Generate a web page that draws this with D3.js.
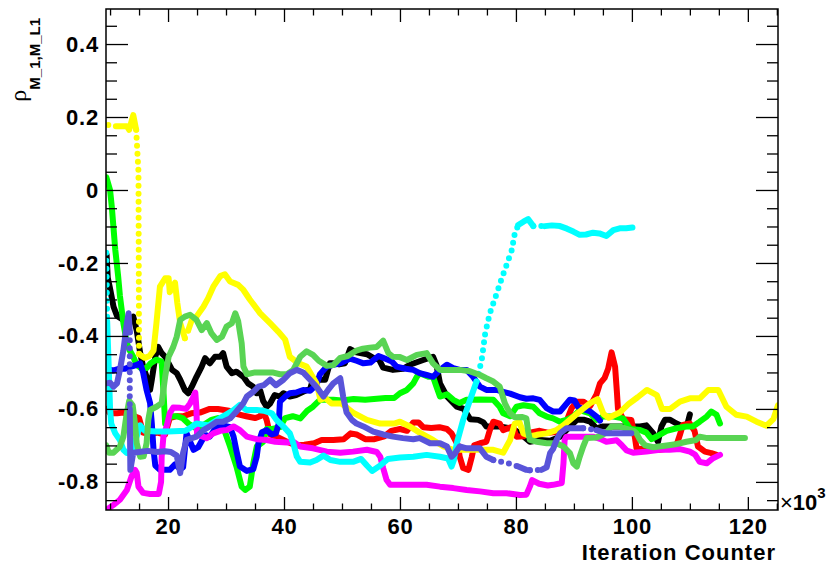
<!DOCTYPE html>
<html>
<head>
<meta charset="utf-8">
<script src="https://cdn.jsdelivr.net/npm/d3@7"></script>
<style>
  body { margin: 0; background: #fff; }
  text { font-family: 'Liberation Sans', Arial, Helvetica, sans-serif; }
</style>
</head>
<body>
<svg id="canvas" width="830" height="568"></svg>
<script>
// x in units of 10^3 iterations, y = rho(M_1, M_L1)
const xTickValues = [20, 40, 60, 80, 100, 120]
const xTickLabels = ['20', '40', '60', '80', '100', '120']
const yTickValues = [-0.8, -0.6, -0.4, -0.2, 0, 0.2, 0.4]
const yTickLabels = ['-0.8', '-0.6', '-0.4', '-0.2', '0', '0.2', '0.4']

const black = [[9.4,-0.178],[9.6,-0.24],[10.0,-0.27],[10.6,-0.32],[11.2,-0.345],[12.3,-0.356],[13.4,-0.356],[14.0,-0.347],[14.6,-0.385],[15.2,-0.447],[15.7,-0.484],[16.3,-0.512],[16.9,-0.548],[17.2,-0.52],[17.8,-0.457],[18.3,-0.43],[18.9,-0.447],[19.5,-0.457],[20.1,-0.475],[20.7,-0.493],[21.5,-0.502],[22.1,-0.52],[22.9,-0.548],[23.5,-0.557],[24.1,-0.539],[24.9,-0.512],[25.8,-0.484],[26.4,-0.461],[27.2,-0.475],[28.1,-0.457],[29.0,-0.457],[29.5,-0.447],[30.1,-0.484],[31.0,-0.502],[31.8,-0.498],[33.0,-0.512],[33.8,-0.53],[34.7,-0.539],[35.3,-0.557],[35.9,-0.55],[36.4,-0.578],[37.0,-0.594],[37.6,-0.585],[38.4,-0.562],[39.3,-0.566],[39.9,-0.557],[41.0,-0.566],[42.1,-0.562],[43.3,-0.553],[44.5,-0.545],[45.0,-0.52],[46.0,-0.52],[47.1,-0.52],[47.9,-0.475],[48.5,-0.475],[49.5,-0.478],[50.5,-0.475],[51.4,-0.436],[52.5,-0.445],[54.3,-0.45],[55.4,-0.46],[56.4,-0.465],[57.1,-0.487],[58.8,-0.493],[60.5,-0.49],[61.7,-0.479],[64.0,-0.466],[65.7,-0.457],[66.3,-0.48],[66.9,-0.53],[68.1,-0.566],[69.8,-0.594],[71.0,-0.6],[72.1,-0.628],[73.5,-0.63],[74.4,-0.637],[74.9,-0.648],[77.2,-0.648],[79.5,-0.655],[80.7,-0.667],[82.4,-0.69],[84.1,-0.685],[85.9,-0.687],[87.6,-0.676],[88.7,-0.658],[90.5,-0.63],[91.8,-0.63],[92.8,-0.635],[93.9,-0.653],[95.0,-0.648],[97.0,-0.648],[99.0,-0.648],[101.4,-0.648],[102.5,-0.645],[103.7,-0.667],[104.5,-0.69],[105.1,-0.648],[105.7,-0.63],[106.6,-0.63],[107.7,-0.64],[108.8,-0.648],[109.6,-0.64],[110.0,-0.615]]

const red = [[9.3,-0.6],[10.0,-0.612],[11.2,-0.612],[12.3,-0.61],[13.1,-0.617],[14.2,-0.62],[15.0,-0.625],[15.7,-0.665],[17.0,-0.67],[18.1,-0.665],[19.5,-0.67],[20.3,-0.625],[21.5,-0.62],[22.6,-0.62],[24.0,-0.612],[25.5,-0.61],[27.2,-0.6],[28.6,-0.6],[30.5,-0.605],[32.1,-0.615],[33.5,-0.62],[35.0,-0.625],[35.9,-0.62],[36.4,-0.605],[37.0,-0.63],[37.6,-0.67],[39.0,-0.678],[40.5,-0.69],[42.1,-0.7],[43.5,-0.698],[45.2,-0.694],[46.5,-0.685],[48.5,-0.685],[50.3,-0.683],[51.5,-0.667],[52.5,-0.67],[54.0,-0.683],[55.6,-0.683],[57.3,-0.675],[58.5,-0.66],[60.0,-0.655],[61.2,-0.66],[62.3,-0.637],[63.2,-0.637],[64.0,-0.65],[65.4,-0.652],[66.8,-0.65],[68.1,-0.655],[68.9,-0.667],[70.0,-0.7],[70.3,-0.731],[70.9,-0.762],[71.8,-0.767],[72.4,-0.731],[72.8,-0.7],[73.8,-0.694],[74.9,-0.69],[75.5,-0.658],[76.1,-0.635],[77.2,-0.64],[77.8,-0.658],[79.5,-0.648],[80.1,-0.676],[81.3,-0.675],[82.4,-0.665],[84.1,-0.66],[85.5,-0.665],[87.0,-0.663],[88.0,-0.655],[88.7,-0.635],[89.6,-0.598],[90.5,-0.58],[91.6,-0.58],[92.8,-0.592],[93.9,-0.56],[94.5,-0.53],[95.3,-0.515],[95.9,-0.49],[96.5,-0.445],[97.1,-0.484],[97.4,-0.55],[97.6,-0.6],[98.5,-0.628],[99.9,-0.63],[100.5,-0.676],[100.8,-0.708],[102.5,-0.712],[104.8,-0.712],[106.6,-0.708],[107.7,-0.699],[108.3,-0.67],[108.8,-0.644],[110.0,-0.64],[110.8,-0.66],[111.4,-0.703],[112.6,-0.717],[113.7,-0.721],[114.6,-0.726]]

const green = [[9.35,0.035],[10.0,0.0],[10.3,-0.046],[10.9,-0.164],[11.4,-0.237],[11.7,-0.29],[12.3,-0.365],[12.9,-0.42],[13.4,-0.44],[14.0,-0.457],[14.6,-0.48],[15.5,-0.49],[16.3,-0.488],[17.0,-0.475],[18.0,-0.465],[18.9,-0.47],[19.2,-0.55],[19.5,-0.64],[20.5,-0.62],[21.5,-0.62],[22.5,-0.625],[23.5,-0.64],[25.0,-0.655],[26.5,-0.64],[27.5,-0.63],[28.6,-0.625],[29.3,-0.64],[30.7,-0.703],[31.8,-0.758],[32.7,-0.813],[33.3,-0.822],[34.1,-0.813],[34.7,-0.749],[35.3,-0.703],[36.4,-0.69],[37.0,-0.655],[38.0,-0.655],[39.3,-0.65],[40.2,-0.625],[41.5,-0.62],[42.8,-0.626],[44.0,-0.605],[45.0,-0.594],[46.2,-0.575],[48.5,-0.575],[50.0,-0.577],[52.0,-0.573],[54.0,-0.575],[56.0,-0.572],[57.5,-0.57],[59.0,-0.57],[60.0,-0.557],[61.2,-0.548],[62.3,-0.53],[62.9,-0.512],[63.4,-0.502],[64.9,-0.512],[65.7,-0.512],[66.3,-0.539],[66.9,-0.566],[68.1,-0.56],[69.2,-0.575],[70.3,-0.584],[71.5,-0.575],[73.8,-0.574],[76.1,-0.575],[77.2,-0.594],[77.8,-0.612],[79.0,-0.62],[80.1,-0.594],[81.3,-0.59],[83.0,-0.594],[84.1,-0.612],[85.3,-0.621],[86.4,-0.626],[87.6,-0.635],[88.7,-0.63],[89.9,-0.621],[91.0,-0.603],[92.8,-0.612],[93.9,-0.63],[95.0,-0.621],[96.8,-0.621],[98.5,-0.626],[99.7,-0.655],[101.4,-0.658],[102.5,-0.665],[103.4,-0.683],[104.3,-0.675],[106.0,-0.66],[107.7,-0.653],[109.4,-0.648],[110.5,-0.648],[111.7,-0.635],[112.9,-0.621],[113.7,-0.607],[114.6,-0.616],[115.2,-0.64]]

const blue = [[9.5,-0.49],[10.5,-0.495],[11.5,-0.49],[12.5,-0.49],[13.5,-0.485],[14.5,-0.48],[15.2,-0.475],[15.7,-0.5],[16.3,-0.548],[16.9,-0.584],[17.2,-0.64],[17.5,-0.712],[17.8,-0.755],[18.6,-0.767],[20.3,-0.767],[21.2,-0.752],[22.1,-0.765],[22.6,-0.76],[22.9,-0.712],[23.2,-0.667],[23.8,-0.69],[24.4,-0.712],[25.2,-0.705],[25.9,-0.685],[26.6,-0.672],[27.2,-0.676],[28.4,-0.648],[29.5,-0.645],[30.7,-0.65],[31.3,-0.676],[31.8,-0.715],[32.4,-0.758],[33.6,-0.77],[34.7,-0.765],[35.3,-0.73],[35.6,-0.694],[36.2,-0.664],[37.0,-0.658],[37.9,-0.67],[38.6,-0.667],[39.1,-0.64],[39.3,-0.58],[40.3,-0.565],[41.0,-0.557],[42.1,-0.555],[43.3,-0.548],[44.5,-0.55],[45.6,-0.534],[46.2,-0.505],[47.4,-0.484],[48.5,-0.479],[49.7,-0.475],[51.4,-0.462],[52.5,-0.468],[53.7,-0.475],[54.9,-0.473],[56.3,-0.455],[57.4,-0.462],[58.6,-0.47],[59.4,-0.484],[61.0,-0.49],[62.3,-0.493],[63.4,-0.502],[64.6,-0.507],[65.7,-0.512],[66.9,-0.493],[68.1,-0.479],[69.2,-0.488],[70.3,-0.493],[71.5,-0.493],[72.6,-0.512],[73.8,-0.539],[74.9,-0.548],[76.7,-0.548],[77.8,-0.553],[79.0,-0.558],[80.7,-0.568],[81.8,-0.572],[83.0,-0.571],[84.1,-0.575],[85.3,-0.598],[86.4,-0.607],[87.6,-0.607],[88.4,-0.592],[89.3,-0.575],[90.1,-0.577],[90.7,-0.594],[91.6,-0.6],[92.8,-0.607],[93.9,-0.621],[94.5,-0.632]]

const yellow = [[9.7,0.178],[11.0,0.175],[12.9,0.175],[13.3,0.165],[14.0,0.205],[14.5,0.165],[14.9,0.05],[15.0,-0.45],[16.0,-0.46],[16.8,-0.455],[17.5,-0.44],[18.0,-0.365],[18.6,-0.265],[19.5,-0.242],[20.1,-0.242],[20.3,-0.28],[21.2,-0.254],[21.6,-0.31],[22.1,-0.365],[22.9,-0.406],[23.5,-0.384],[24.1,-0.356],[24.9,-0.347],[26.1,-0.32],[26.9,-0.297],[27.8,-0.265],[29.0,-0.236],[29.8,-0.231],[30.7,-0.251],[32.1,-0.26],[33.0,-0.274],[34.1,-0.3],[35.9,-0.338],[37.6,-0.365],[39.0,-0.388],[40.2,-0.41],[41.0,-0.457],[42.5,-0.475],[43.9,-0.484],[45.6,-0.53],[46.3,-0.575],[47.1,-0.57],[48.2,-0.585],[49.9,-0.585],[51.9,-0.61],[54.3,-0.63],[56.6,-0.64],[59.0,-0.64],[60.0,-0.635],[61.7,-0.648],[63.4,-0.665],[65.7,-0.685],[67.5,-0.703],[69.2,-0.712],[71.5,-0.712],[73.8,-0.712],[76.1,-0.712],[77.8,-0.72],[79.0,-0.685],[79.8,-0.64],[80.6,-0.636],[81.3,-0.667],[82.5,-0.675],[83.6,-0.671],[85.3,-0.667],[87.0,-0.658],[88.2,-0.645],[89.3,-0.63],[91.0,-0.607],[92.8,-0.584],[94.1,-0.573],[95.1,-0.614],[96.0,-0.624],[97.9,-0.61],[99.4,-0.587],[101.0,-0.568],[102.6,-0.548],[104.3,-0.562],[105.2,-0.6],[106.6,-0.6],[108.3,-0.58],[110.0,-0.571],[111.7,-0.571],[113.2,-0.548],[114.9,-0.548],[116.3,-0.594],[118.0,-0.616],[119.8,-0.621],[121.5,-0.635],[123.2,-0.646],[124.4,-0.628],[125.2,-0.59]]

const magenta = [[9.35,-0.877],[10.6,-0.863],[11.7,-0.849],[12.9,-0.822],[13.7,-0.785],[14.3,-0.767],[14.6,-0.775],[14.9,-0.813],[15.7,-0.83],[16.9,-0.833],[18.4,-0.833],[18.8,-0.8],[18.9,-0.731],[19.2,-0.676],[19.8,-0.645],[20.3,-0.612],[20.9,-0.596],[22.1,-0.597],[23.1,-0.6],[23.8,-0.585],[24.4,-0.566],[24.7,-0.555],[24.9,-0.6],[25.0,-0.67],[26.7,-0.68],[27.8,-0.667],[29.0,-0.66],[30.1,-0.658],[31.3,-0.648],[32.4,-0.658],[33.6,-0.676],[35.3,-0.683],[37.0,-0.685],[38.5,-0.69],[40.5,-0.692],[41.6,-0.69],[42.8,-0.703],[45.0,-0.708],[47.4,-0.717],[49.7,-0.72],[51.9,-0.717],[54.3,-0.712],[56.0,-0.718],[56.6,-0.731],[57.1,-0.762],[57.7,-0.795],[58.3,-0.808],[60.0,-0.808],[62.3,-0.808],[64.6,-0.808],[66.9,-0.813],[69.2,-0.817],[71.5,-0.822],[73.8,-0.826],[76.1,-0.831],[78.4,-0.831],[80.7,-0.836],[81.8,-0.835],[82.4,-0.813],[82.8,-0.795],[84.0,-0.805],[85.5,-0.81],[86.4,-0.808],[87.9,-0.803],[88.2,-0.749],[88.4,-0.685],[88.7,-0.676],[91.0,-0.676],[93.3,-0.676],[94.5,-0.682],[95.6,-0.69],[97.4,-0.686],[98.3,-0.7],[99.1,-0.714],[100.2,-0.72],[102.5,-0.717],[104.8,-0.712],[106.5,-0.712],[108.3,-0.71],[110.0,-0.717],[110.9,-0.725],[111.7,-0.745],[112.9,-0.749],[114.0,-0.735],[115.2,-0.726]]

const cyan = [[9.35,-0.172],[9.5,-0.36],[9.8,-0.5],[10.0,-0.6],[10.2,-0.64],[10.9,-0.667],[11.7,-0.685],[12.3,-0.712],[12.9,-0.721],[13.8,-0.722],[14.5,-0.68],[15.2,-0.645],[16.0,-0.66],[18.0,-0.662],[20.0,-0.662],[23.0,-0.66],[24.0,-0.65],[24.9,-0.64],[27.0,-0.645],[29.5,-0.62],[31.3,-0.603],[32.4,-0.589],[33.5,-0.603],[35.3,-0.603],[36.5,-0.605],[37.9,-0.612],[38.7,-0.63],[39.9,-0.648],[41.0,-0.667],[41.6,-0.694],[42.2,-0.73],[42.8,-0.745],[44.5,-0.747],[45.6,-0.74],[46.8,-0.728],[48.0,-0.74],[49.7,-0.745],[51.9,-0.745],[53.3,-0.737],[54.3,-0.755],[55.2,-0.77],[56.6,-0.755],[57.9,-0.737],[60.0,-0.733],[62.3,-0.731],[64.6,-0.726],[66.9,-0.731],[68.3,-0.736],[68.9,-0.758],[69.3,-0.74],[69.8,-0.694],[70.9,-0.63],[72.1,-0.575],[73.2,-0.525],[74.1,-0.466],[74.7,-0.393],[75.5,-0.338],[76.7,-0.283],[77.6,-0.24],[78.4,-0.205],[79.3,-0.164],[79.8,-0.119],[80.4,-0.096],[81.3,-0.087],[82.1,-0.08],[83.0,-0.099],[85.0,-0.099],[86.2,-0.097],[87.6,-0.099],[88.8,-0.106],[89.9,-0.114],[91.0,-0.123],[92.1,-0.122],[93.3,-0.117],[94.4,-0.119],[95.6,-0.126],[96.8,-0.11],[97.9,-0.105],[99.0,-0.105],[100.1,-0.103]]

const lightGreen = [[9.35,-0.7],[9.8,-0.72],[10.6,-0.72],[11.7,-0.703],[12.3,-0.676],[12.8,-0.62],[13.3,-0.578],[13.9,-0.59],[14.3,-0.64],[14.6,-0.694],[15.2,-0.731],[15.8,-0.73],[16.3,-0.694],[16.6,-0.63],[16.9,-0.603],[18.0,-0.594],[18.9,-0.584],[19.5,-0.512],[20.1,-0.457],[20.9,-0.43],[21.5,-0.402],[22.1,-0.356],[22.9,-0.347],[23.8,-0.342],[24.9,-0.356],[25.8,-0.384],[26.7,-0.365],[27.5,-0.393],[28.4,-0.411],[29.3,-0.402],[30.1,-0.374],[31.0,-0.365],[31.6,-0.338],[32.1,-0.36],[32.7,-0.42],[33.0,-0.484],[33.6,-0.505],[35.0,-0.5],[36.5,-0.5],[38.0,-0.5],[39.3,-0.505],[40.5,-0.505],[41.6,-0.493],[42.8,-0.457],[43.9,-0.442],[45.0,-0.452],[46.0,-0.468],[47.4,-0.482],[48.5,-0.48],[49.7,-0.46],[51.0,-0.455],[52.5,-0.44],[53.6,-0.435],[54.8,-0.432],[56.0,-0.43],[57.1,-0.413],[58.0,-0.447],[58.8,-0.457],[60.0,-0.458],[61.2,-0.466],[62.9,-0.452],[64.6,-0.447],[65.7,-0.475],[66.9,-0.493],[68.6,-0.493],[70.3,-0.493],[72.1,-0.497],[73.8,-0.507],[74.9,-0.516],[76.1,-0.525],[77.2,-0.539],[78.1,-0.585],[79.0,-0.612],[79.8,-0.623],[81.0,-0.622],[81.8,-0.626],[82.1,-0.66],[82.4,-0.685],[83.6,-0.69],[85.3,-0.694],[87.0,-0.694],[88.2,-0.703],[89.3,-0.721],[89.9,-0.749],[90.5,-0.758],[91.0,-0.731],[91.6,-0.703],[92.2,-0.68],[93.9,-0.678],[94.8,-0.672],[95.6,-0.665],[96.5,-0.648],[97.9,-0.648],[99.1,-0.655],[100.3,-0.66],[100.8,-0.667],[101.4,-0.685],[102.3,-0.7],[103.7,-0.705],[106.0,-0.7],[107.5,-0.697],[109.4,-0.69],[111.1,-0.685],[111.7,-0.676],[113.0,-0.68],[115.2,-0.68],[117.5,-0.68],[119.5,-0.68]]

const slate = [[9.35,-0.53],[10.0,-0.528],[10.6,-0.539],[11.2,-0.53],[11.7,-0.493],[12.3,-0.44],[12.9,-0.365],[13.2,-0.338],[13.4,-0.39],[13.4,-0.6],[13.5,-0.767],[14.0,-0.72],[15.0,-0.718],[16.5,-0.715],[18.0,-0.718],[19.5,-0.716],[20.5,-0.718],[21.5,-0.728],[22.1,-0.776],[22.6,-0.72],[23.2,-0.685],[24.9,-0.676],[26.1,-0.658],[27.2,-0.648],[28.4,-0.635],[29.5,-0.635],[30.7,-0.626],[31.8,-0.607],[33.0,-0.584],[33.6,-0.566],[34.7,-0.553],[35.6,-0.539],[36.5,-0.535],[37.6,-0.52],[38.6,-0.535],[39.9,-0.52],[41.0,-0.502],[42.2,-0.493],[43.3,-0.5],[44.5,-0.52],[45.6,-0.539],[46.8,-0.566],[47.6,-0.548],[48.5,-0.53],[49.7,-0.516],[50.2,-0.566],[50.8,-0.61],[51.7,-0.63],[52.5,-0.64],[53.7,-0.648],[55.4,-0.662],[57.1,-0.67],[58.8,-0.676],[60.5,-0.68],[62.3,-0.683],[63.4,-0.68],[65.2,-0.694],[66.9,-0.694],[68.1,-0.703],[68.9,-0.731],[69.5,-0.722],[70.3,-0.703],[71.5,-0.708],[73.8,-0.708],[74.9,-0.731],[76.1,-0.74],[77.2,-0.744],[78.4,-0.748],[79.5,-0.753],[80.4,-0.758],[81.8,-0.767],[82.4,-0.768],[84.4,-0.767],[85.3,-0.76],[85.9,-0.721],[86.4,-0.71],[87.0,-0.685],[87.6,-0.667],[88.7,-0.653],[90.5,-0.653],[91.6,-0.653],[93.9,-0.658],[95.6,-0.667],[97.4,-0.667],[99.9,-0.667]]

// x ranges where the samples are sparse enough to show as separate dots
const yellowSparse = [[9.7, 11.0], [14.5, 15.0], [22.9, 23.5]]
const cyanSparse = [[9.35, 9.5], [73.2, 80.4], [83.0, 85.0]]
const slateSparse = [[13.4, 13.4], [76.1, 80.4], [82.4, 84.4], [91.6, 93.9]]

// drawing order follows the ROOT colour index 1..9
let graphs = [
    { pts: black, color: '#000000', sparse: [] },
    { pts: red, color: '#ff0000', sparse: [] },
    { pts: green, color: '#00ff00', sparse: [] },
    { pts: blue, color: '#0000ff', sparse: [] },
    { pts: yellow, color: '#ffff00', sparse: yellowSparse },
    { pts: magenta, color: '#ff00ff', sparse: [] },
    { pts: cyan, color: '#00ffff', sparse: cyanSparse },
    { pts: lightGreen, color: '#59d454', sparse: [] },
    { pts: slate, color: '#5954d9', sparse: slateSparse }
]

let canvas = d3.select('#canvas')

let xScale = d3.scaleLinear().domain([9.3, 125.2]).range([106, 778])
let yScale = d3.scaleLinear().domain([-0.877, 0.496]).range([510, 9])

let xMinor = d3.range(10, 126, 5).filter(v => v % 20 !== 0)
let yMinor = d3.range(-17, 10).map(v => v * 0.05).filter(v => Math.abs(Math.round(v * 100)) % 20 !== 0)

canvas.append('rect').attr('width', 830).attr('height', 568).attr('fill', '#fff')

canvas.append('clipPath').attr('id', 'frame')
    .append('rect').attr('x', 106).attr('y', 9).attr('width', 672).attr('height', 501)

let plot = canvas.append('g').attr('clip-path', 'url(#frame)')

let line = d3.line()
    .x(p => xScale(p[0]))
    .y(p => yScale(p[1]))

// split a graph into solid and dotted runs
function splitRuns(pts, sparse) {
    let runs = []
    let current = null
    for (let i = 1; i < pts.length; i++) {
        let a = pts[i - 1], b = pts[i]
        let dotted = sparse.some(r => a[0] >= r[0] - 1e-9 && b[0] <= r[1] + 1e-9)
        if (!current || current.dotted !== dotted) {
            current = { dotted: dotted, pts: [a] }
            runs.push(current)
        }
        current.pts.push(b)
    }
    return runs
}

graphs.forEach(graph => {
    splitRuns(graph.pts, graph.sparse).forEach(run => {
        plot.append('path')
            .attr('d', line(run.pts))
            .attr('fill', 'none')
            .attr('stroke', graph.color)
            .attr('stroke-width', 6)
            .attr('stroke-linejoin', 'round')
            .attr('stroke-linecap', 'round')
            .attr('stroke-dasharray', run.dotted ? '0 8' : null)
    })
})

function styleAxis(g) {
    g.select('.domain').remove()
    g.selectAll('.tick line').attr('stroke', '#000').attr('stroke-width', 1.3)
    g.selectAll('.tick text')
        .attr('fill', '#000')
        .style('font-family', "'Liberation Sans', Arial, sans-serif")
        .style('font-weight', 'bold')
        .style('font-size', '22px')
        .style('letter-spacing', '0.8px')
}

// bottom axis
canvas.append('g').attr('transform', 'translate(0,510)')
    .call(d3.axisBottom(xScale).tickValues(xTickValues).tickSizeInner(-13).tickSizeOuter(0).tickPadding(8)
        .tickFormat((d, i) => xTickLabels[i]))
    .call(styleAxis)
canvas.append('g').attr('transform', 'translate(0,510)')
    .call(d3.axisBottom(xScale).tickValues(xMinor).tickSizeInner(-6.5).tickSizeOuter(0).tickFormat(''))
    .call(styleAxis)

// top axis
canvas.append('g').attr('transform', 'translate(0,9)')
    .call(d3.axisTop(xScale).tickValues(xTickValues).tickSizeInner(-13).tickSizeOuter(0).tickFormat(''))
    .call(styleAxis)
canvas.append('g').attr('transform', 'translate(0,9)')
    .call(d3.axisTop(xScale).tickValues(xMinor).tickSizeInner(-6.5).tickSizeOuter(0).tickFormat(''))
    .call(styleAxis)

// left axis
canvas.append('g').attr('transform', 'translate(106,0)')
    .call(d3.axisLeft(yScale).tickValues(yTickValues).tickSizeInner(-22).tickSizeOuter(0).tickPadding(7)
        .tickFormat((d, i) => yTickLabels[i]))
    .call(styleAxis)
canvas.append('g').attr('transform', 'translate(106,0)')
    .call(d3.axisLeft(yScale).tickValues(yMinor).tickSizeInner(-11).tickSizeOuter(0).tickFormat(''))
    .call(styleAxis)

// right axis
canvas.append('g').attr('transform', 'translate(778,0)')
    .call(d3.axisRight(yScale).tickValues(yTickValues).tickSizeInner(-22).tickSizeOuter(0).tickFormat(''))
    .call(styleAxis)
canvas.append('g').attr('transform', 'translate(778,0)')
    .call(d3.axisRight(yScale).tickValues(yMinor).tickSizeInner(-11).tickSizeOuter(0).tickFormat(''))
    .call(styleAxis)

// frame
canvas.append('rect')
    .attr('x', 106).attr('y', 9).attr('width', 672).attr('height', 501)
    .attr('fill', 'none').attr('stroke', '#000').attr('stroke-width', 1.5)

// x10^3 multiplier
let mult = canvas.append('text').attr('x', 780).attr('y', 510)
    .style('font-size', '22px').attr('fill', '#000')
mult.append('tspan').text('×').style('font-weight', 'normal')
mult.append('tspan').text('10').style('font-weight', 'bold')
mult.append('tspan').text('3').style('font-weight', 'bold').style('font-size', '15px').attr('dy', -12)

// x title
canvas.append('text')
    .attr('x', 776).attr('y', 560)
    .attr('text-anchor', 'end')
    .style('font-size', '22px').style('font-weight', 'bold').style('letter-spacing', '1px')
    .attr('fill', '#000')
    .text('Iteration Counter')

// y title
let ytitle = canvas.append('text')
    .attr('transform', 'translate(26,18) rotate(-90)')
    .attr('text-anchor', 'end')
    .attr('fill', '#000')
ytitle.append('tspan').text('ρ')
    .style('font-family', "'Liberation Serif', 'DejaVu Serif', serif").style('font-size', '24px')
ytitle.append('tspan').text('M_1,M_L1')
    .attr('dy', 14)
    .style('font-size', '15px').style('font-weight', 'bold')
</script>
</body>
</html>
